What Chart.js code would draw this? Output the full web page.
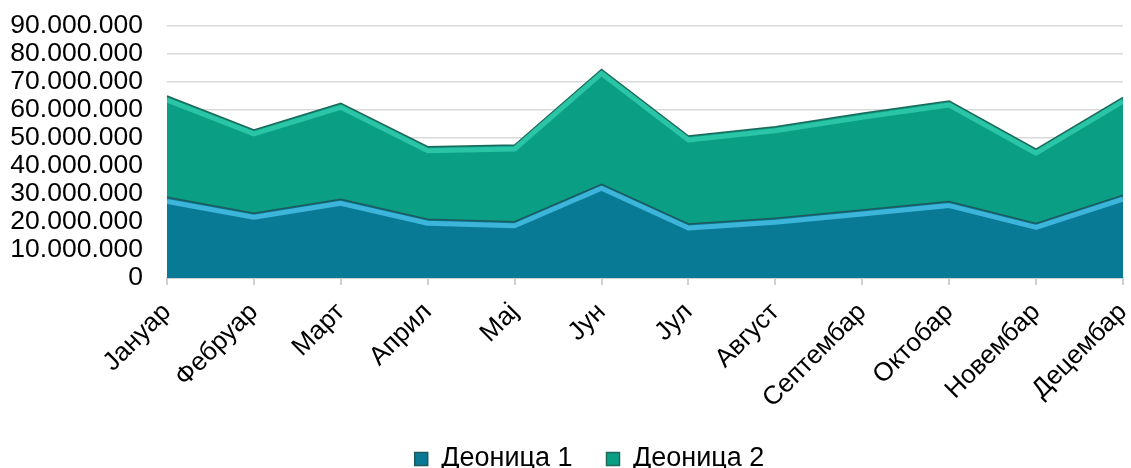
<!DOCTYPE html>
<html>
<head>
<meta charset="utf-8">
<script src="https://cdn.jsdelivr.net/npm/chart.js@4"></script>
<style>
  html, body { margin: 0; padding: 0; background: #fff; }
</style>
</head>
<body>
<canvas id="chart" width="1131" height="468"></canvas>
<script>
var months = ['Јануар', 'Фебруар', 'Март', 'Април', 'Мај', 'Јун', 'Јул', 'Август', 'Септембар', 'Октобар', 'Новембар', 'Децембар'];
var deonica1 = [28800000, 23100000, 28100000, 21000000, 20100000, 33500000, 19300000, 21300000, 24300000, 27300000, 19500000, 29600000];
var deonica2 = [36200000, 29800000, 34300000, 25900000, 27400000, 41000000, 31400000, 32700000, 34500000, 35900000, 26500000, 34900000];

function dots(v) {
    return String(v).replace(/\B(?=(\d{3})+(?!\d))/g, '.');
}

// light band just under each top edge, like the excel bevel
var bevel = {
    id: 'bevel',
    afterDatasetDraw: function (chart, args) {
        var pts = args.meta.data;
        var ds = chart.data.datasets[args.index];
        var area = chart.chartArea;
        var ctx = chart.ctx;
        ctx.save();
        ctx.beginPath();
        ctx.rect(area.left, area.top, area.right - area.left, area.bottom - area.top);
        ctx.clip();
        ctx.beginPath();
        pts.forEach(function (p, i) {
            if (i == 0) ctx.moveTo(p.x, p.y + 4);
            else ctx.lineTo(p.x, p.y + 4);
        });
        ctx.lineWidth = 5;
        ctx.lineJoin = 'round';
        ctx.strokeStyle = ds.bevelColor;
        ctx.stroke();
        ctx.restore();
    }
};

// excel puts the legend a bit right of the canvas centre
var legendShift = {
    id: 'legendShift',
    afterLayout: function (chart) {
        chart.legend.left += 28;
        chart.legend.right += 28;
    }
};

var ctx = document.getElementById('chart').getContext('2d');
var chart = new Chart(ctx, {
    type: 'line',
    data: {
        labels: months,
        datasets: [{
            label: 'Деоница 1',
            data: deonica1,
            backgroundColor: '#087a96',
            borderColor: '#1d5a5c',
            bevelColor: 'rgba(70, 190, 230, 0.85)',
            borderWidth: 1.5,
            fill: 'origin',
            pointRadius: 0,
            tension: 0
        }, {
            label: 'Деоница 2',
            data: deonica2,
            backgroundColor: '#0a9e84',
            borderColor: '#1d6a5c',
            bevelColor: 'rgba(50, 205, 175, 0.8)',
            borderWidth: 1.5,
            fill: '-1',
            pointRadius: 0,
            tension: 0
        }]
    },
    plugins: [bevel, legendShift],
    options: {
        responsive: false,
        animation: false,
        layout: {
            padding: { left: 0, right: 8, top: 26, bottom: -14.5 }
        },
        scales: {
            x: {
                offset: false,
                grid: {
                    drawOnChartArea: false,
                    drawTicks: true,
                    tickLength: 7,
                    color: '#d0d0d0',
                    lineWidth: 2
                },
                border: { display: true, color: '#d0d0d0', width: 2 },
                ticks: {
                    minRotation: 45,
                    maxRotation: 45,
                    autoSkip: false,
                    padding: 12,
                    color: '#000',
                    font: { family: 'Liberation Sans', size: 26 }
                },
                afterFit: function (scale) {
                    scale.height = 133.5;
                    scale.paddingLeft = 0;
                    scale.paddingRight = 0;
                }
            },
            y: {
                stacked: true,
                min: 0,
                max: 90000000,
                grid: {
                    color: '#d9d9d9',
                    lineWidth: 1.5,
                    drawTicks: false
                },
                border: { display: false },
                ticks: {
                    stepSize: 10000000,
                    autoSkip: false,
                    padding: 24,
                    color: '#000',
                    font: { family: 'Liberation Sans', size: 26.5 },
                    callback: function (v) { return dots(v); }
                },
                afterFit: function (scale) {
                    scale.width = 167;
                    scale.paddingTop = 0;
                    scale.paddingBottom = 0;
                }
            }
        },
        plugins: {
            legend: {
                position: 'bottom',
                labels: {
                    boxWidth: 13,
                    boxHeight: 13,
                    padding: 34,
                    color: '#000',
                    font: { family: 'Liberation Sans', size: 27 }
                }
            },
            tooltip: { enabled: false }
        }
    }
});
</script>
</body>
</html>
